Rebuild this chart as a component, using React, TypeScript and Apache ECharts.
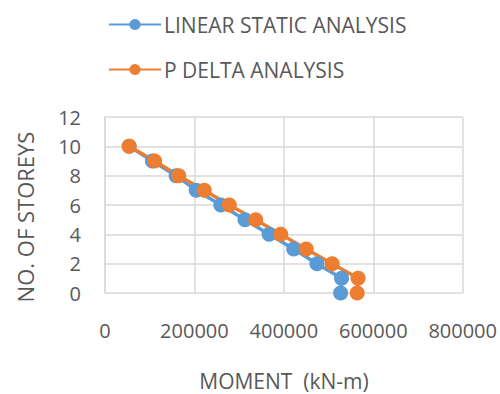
import React, { useEffect, useRef } from "react";
import * as echarts from "echarts";

const storeys = [0, 1, 2, 3, 4, 5, 6, 7, 8, 9, 10];
const linearStatic = [527000, 529000, 474000, 422000, 367000, 313000, 259000, 204000, 159000, 106000, 54000];
const pDelta = [564000, 566000, 508000, 450000, 393000, 337000, 278000, 222000, 165000, 111000, 54000];
const xTicks = [0, 200000, 400000, 600000, 800000];
const yTicks = [0, 2, 4, 6, 8, 10, 12];

const FONT = "'Open Sans', sans-serif";
const GRAY = "#595959";

export default function App() {
  const ref = useRef<HTMLDivElement>(null);
  useEffect(() => {
    if (!ref.current) return;
    const chart = echarts.init(ref.current, undefined, { renderer: "svg" });
    const mk = (vals: number[]) => vals.map((v, i) => [v, storeys[i]]);
    chart.setOption({
      animation: false,
      textStyle: { fontFamily: FONT },
      legend: {
        orient: "vertical",
        left: 103,
        top: 9,
        itemWidth: 52,
        itemHeight: 14,
        itemGap: 24,
        textStyle: { fontFamily: FONT, fontSize: 21, color: GRAY, padding: [0, 0, 0, -2] },
        data: ["LINEAR STATIC ANALYSIS", "P DELTA ANALYSIS"],
      },
      grid: { left: 105, right: 36, top: 117, bottom: 101 },
      xAxis: {
        type: "value",
        min: xTicks[0],
        max: xTicks[xTicks.length - 1],
        interval: 200000,
        axisLine: { show: false },
        axisTick: { show: false },
        splitLine: { lineStyle: { color: "#D9D9D9", width: 1.5 } },
        axisLabel: {
          color: GRAY,
          fontSize: 20,
          fontFamily: FONT,
          margin: 27,
          formatter: (v: number) => String(v),
        },
      },
      yAxis: {
        type: "value",
        min: yTicks[0],
        max: yTicks[yTicks.length - 1],
        interval: 2,
        axisLine: { show: true, lineStyle: { color: "#D9D9D9", width: 1.5 } },
        axisTick: { show: false },
        splitLine: { lineStyle: { color: "#D9D9D9", width: 1.5 } },
        axisLabel: { color: GRAY, fontSize: 20, fontFamily: FONT, margin: 24 },
      },
      graphic: [
        {
          type: "text",
          x: 25,
          y: 217,
          rotation: Math.PI / 2,
          style: {
            text: "NO. OF STOREYS",
            fill: GRAY,
            font: `22px ${FONT}`,
            textAlign: "center",
            textVerticalAlign: "middle",
          },
        },
        {
          type: "text",
          x: 284,
          y: 381,
          style: {
            text: "MOMENT  (kN-m)",
            fill: GRAY,
            font: `21px ${FONT}`,
            textAlign: "center",
            textVerticalAlign: "middle",
          },
        },
      ],
      series: [
        {
          name: "LINEAR STATIC ANALYSIS",
          type: "line",
          data: mk(linearStatic),
          symbol: "circle",
          symbolSize: 15,
          itemStyle: { color: "#5B9BD5" },
          lineStyle: { color: "#5B9BD5", width: 3.5 },
        },
        {
          name: "P DELTA ANALYSIS",
          type: "line",
          data: mk(pDelta),
          symbol: "circle",
          symbolSize: 15,
          itemStyle: { color: "#ED7D31" },
          lineStyle: { color: "#ED7D31", width: 3.5 },
        },
      ],
    });
    return () => chart.dispose();
  }, []);
  return <div ref={ref} style={{ width: 500, height: 394, position: "absolute", left: 0, top: 0 }} />;
}
